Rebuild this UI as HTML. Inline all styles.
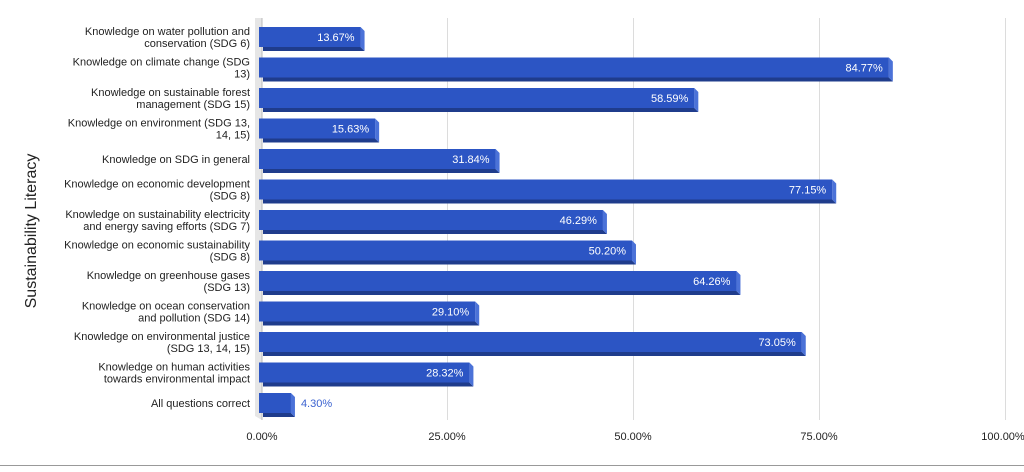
<!DOCTYPE html>
<html><head><style>
body{margin:0;background:#fff;}
svg text{font-family:"Liberation Sans",Arial,sans-serif;}
</style></head><body>
<svg width="1024" height="467" xmlns="http://www.w3.org/2000/svg">
<rect width="1024" height="467" fill="#fff"/>
<g stroke="#dcdcdc" stroke-width="1">
<line x1="447.5" y1="18" x2="447.5" y2="420"/>
<line x1="633.5" y1="18" x2="633.5" y2="420"/>
<line x1="819.5" y1="18" x2="819.5" y2="420"/>
<line x1="1005.5" y1="18" x2="1005.5" y2="420"/>
</g>
<polygon points="255,18 262,18 262,420 255,416" fill="#e6e6e6"/>
<line x1="262" y1="18" x2="262" y2="420" stroke="#bbb"/>
<line x1="0" y1="465.5" x2="1024" y2="465.5" stroke="#999"/>
<text x="36" y="231" font-size="16" text-anchor="middle" transform="rotate(-90 36 231)" fill="#222">Sustainability Literacy</text>
<g font-size="11" fill="#222" text-anchor="middle">
<text x="262" y="440">0.00%</text><text x="447" y="440">25.00%</text><text x="633" y="440">50.00%</text><text x="819" y="440">75.00%</text><text x="1003" y="440">100.00%</text>
</g>
<g id="bars"></g>
<g id="labels" font-size="11" fill="#222" text-anchor="end"></g>
</svg>
<script>
var d=[["Knowledge on water pollution and","conservation (SDG 6)",13.67],
["Knowledge on climate change (SDG","13)",84.77],
["Knowledge on sustainable forest","management (SDG 15)",58.59],
["Knowledge on environment (SDG 13,","14, 15)",15.63],
["Knowledge on SDG in general","",31.84],
["Knowledge on economic development","(SDG 8)",77.15],
["Knowledge on sustainability electricity","and energy saving efforts (SDG 7)",46.29],
["Knowledge on economic sustainability","(SDG 8)",50.20],
["Knowledge on greenhouse gases","(SDG 13)",64.26],
["Knowledge on ocean conservation","and pollution (SDG 14)",29.10],
["Knowledge on environmental justice","(SDG 13, 14, 15)",73.05],
["Knowledge on human activities","towards environmental impact",28.32],
["All questions correct","",4.30]];
var ns="http://www.w3.org/2000/svg",b=document.getElementById("bars"),l=document.getElementById("labels");
function el(p,t,a,tx){var e=document.createElementNS(ns,t);for(var k in a)e.setAttribute(k,a[k]);if(tx)e.textContent=tx;p.appendChild(e);return e;}
d.forEach(function(r,i){
 var y=27+i*30.5,w=r[2]*7.43,x=259;
 el(b,"polygon",{points:(x+4)+","+(y+20)+" "+(x+w)+","+(y+20)+" "+(x+w+4)+","+(y+24)+" "+(x+4)+","+(y+24),fill:"#1f3c8c"});
 el(b,"polygon",{points:(x+w)+","+y+" "+(x+w)+","+(y+20)+" "+(x+w+4)+","+(y+24)+" "+(x+w+4)+","+(y+4),fill:"#4b72d8"});
 el(b,"rect",{x:x,y:y,width:w,height:20,fill:"#2c55c4"});
 if(r[2]>10) el(b,"text",{x:x+w-6,y:y+14,"font-size":"11",fill:"#fff","text-anchor":"end"},r[2].toFixed(2)+"%");
 else el(b,"text",{x:x+w+10,y:y+14,"font-size":"11",fill:"#3b62d0"},r[2].toFixed(2)+"%");
 if(r[1]){el(l,"text",{x:250,y:y+8},r[0]);el(l,"text",{x:250,y:y+20},r[1]);}
 else el(l,"text",{x:250,y:y+14},r[0]);
});
</script>
</body></html>
